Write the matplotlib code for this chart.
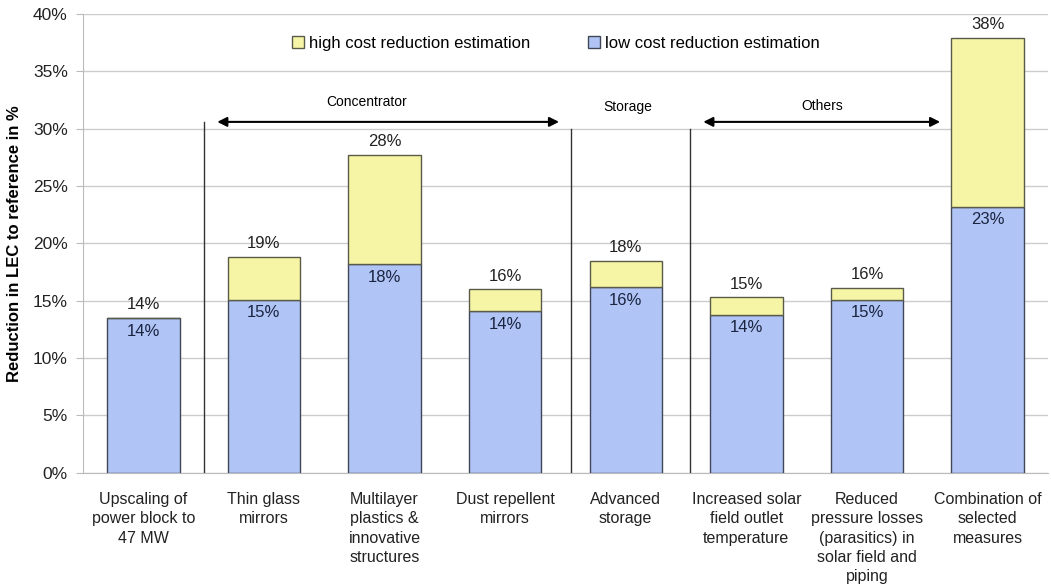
import numpy as np
from matplotlib import pyplot as plt

plt.rcParams['font.family'] = ['Liberation Sans', 'DejaVu Sans']

categories = ['Upscaling of\npower block to\n47 MW', 'Thin glass\nmirrors',
              'Multilayer\nplastics &\ninnovative\nstructures', 'Dust repellent\nmirrors',
              'Advanced\nstorage', 'Increased solar\nfield outlet\ntemperature',
              'Reduced\npressure losses\n(parasitics) in\nsolar field and\npiping',
              'Combination of\nselected\nmeasures']
low = [13.5, 15.1, 18.2, 14.1, 16.2, 13.8, 15.1, 23.2]
high = [13.5, 18.8, 27.7, 16.0, 18.5, 15.3, 16.1, 37.9]
low_labels = ['14%', '15%', '18%', '14%', '16%', '14%', '15%', '23%']
high_labels = ['14%', '19%', '28%', '16%', '18%', '15%', '16%', '38%']

x = np.arange(len(categories))
extra = np.array(high) - np.array(low)

fig, ax = plt.subplots(figsize=(10.51, 5.88), dpi=100)
fig.subplots_adjust(left=0.079, right=0.997, top=0.976, bottom=0.196)

ax.bar(x, low, width=0.6, color='#b0c4f5', edgecolor='#404858', linewidth=1,
       label='low cost reduction estimation', zorder=3)
ax.bar(x, extra, bottom=low, width=0.6, color='#f6f5a6', edgecolor='#5a5a48',
       linewidth=1, label='high cost reduction estimation', zorder=3)

for i in range(len(x)):
    ax.text(x[i], high[i] + 0.5, high_labels[i], ha='center', va='bottom', fontsize=12, color='#222222')
    ax.text(x[i], low[i] - 0.5, low_labels[i], ha='center', va='top', fontsize=12, color='#1a2440', zorder=4)

# group separators
for xs, top in [(0.5, 30.6), (3.55, 30.0), (4.53, 30.0)]:
    ax.plot([xs, xs], [0, top], color='#333333', lw=1, zorder=4)

ax.annotate('', xy=(0.59, 30.6), xytext=(3.47, 30.6),
            arrowprops=dict(arrowstyle='<|-|>', color='black', lw=1.5, mutation_scale=14))
ax.annotate('', xy=(4.62, 30.6), xytext=(6.63, 30.6),
            arrowprops=dict(arrowstyle='<|-|>', color='black', lw=1.5, mutation_scale=14))
ax.text(1.85, 32.3, 'Concentrator', ha='center', va='center', fontsize=10)
ax.text(4.02, 31.9, 'Storage', ha='center', va='center', fontsize=10)
ax.text(5.63, 32.0, 'Others', ha='center', va='center', fontsize=10)

ax.set_xlim(-0.5, 7.5)
ax.set_ylim(0, 40)
ax.set_yticks(np.arange(0, 41, 5))
ax.set_yticklabels([f'{v}%' for v in range(0, 41, 5)], fontsize=12.5, color='#222222')
ax.set_xticks(x)
ax.set_xticklabels(categories, fontsize=11.5, color='#222222', va='top', linespacing=1.35)
ax.tick_params(axis='x', length=0, pad=14)
ax.tick_params(axis='y', length=5, color='#bbbbbb', pad=6)
ax.set_ylabel('Reduction in LEC to reference in %', fontsize=12, fontweight='bold', labelpad=8)

ax.grid(axis='y', color='#cccccc', lw=1, zorder=0)
for s in ['top', 'right']:
    ax.spines[s].set_visible(False)
ax.spines['left'].set_color('#bbbbbb')
ax.spines['bottom'].set_color('#bbbbbb')

h, l = ax.get_legend_handles_labels()
ax.legend(h[::-1], l[::-1], loc='upper center', bbox_to_anchor=(0.49, 0.985), ncol=2,
          frameon=False, fontsize=12, handlelength=0.7, handleheight=0.7, columnspacing=3.5,
          handletextpad=0.3)

plt.savefig('out.png', dpi=100)
